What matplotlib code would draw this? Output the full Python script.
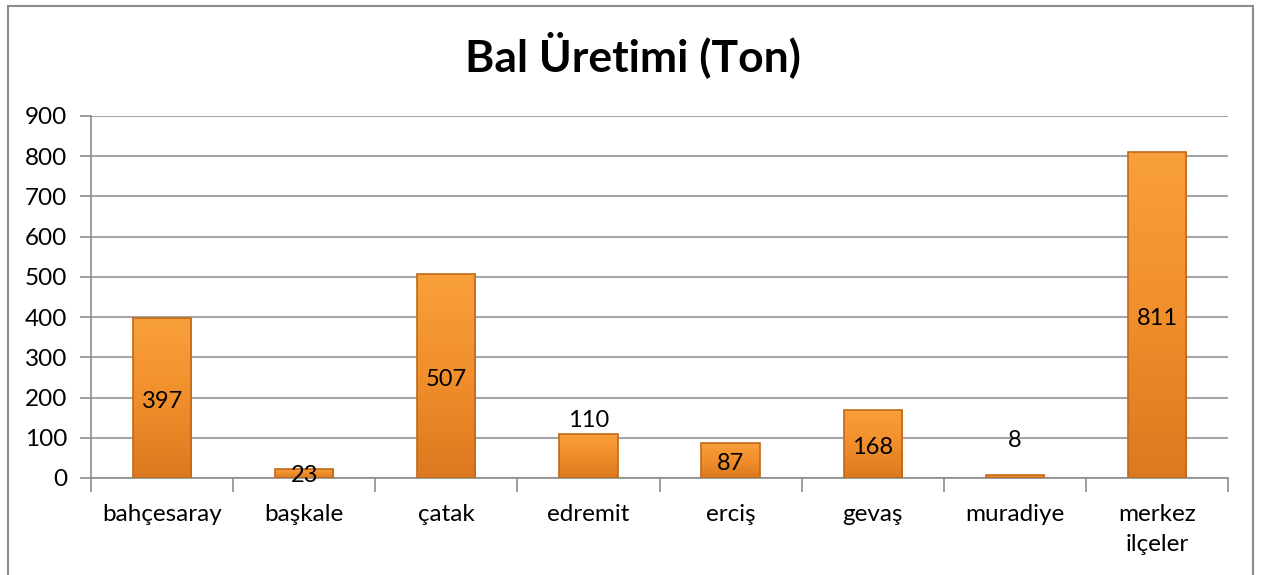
import numpy as np
import matplotlib
matplotlib.use("Agg")
import matplotlib.pyplot as plt
from matplotlib.colors import LinearSegmentedColormap
from matplotlib.patches import Rectangle

plt.rcParams['font.family'] = ['Lato', 'DejaVu Sans']

title = "Bal Üretimi (Ton)"
districts = ["bahçesaray", "başkale", "çatak", "edremit", "erciş", "gevaş", "muradiye", "merkez\nilçeler"]
honey = [397, 23, 507, 110, 87, 168, 8, 811]
# labels that Excel pushed above the bar
label_above = [False, False, False, True, False, False, True, False]

fig = plt.figure(figsize=(12.61, 5.75), dpi=100)
fig.patches.append(Rectangle((8 / 1261, -0.01), 1245 / 1261, 1.0, transform=fig.transFigure,
                             fill=False, edgecolor="#8c8c8c", linewidth=1.5))
ax = fig.add_axes([91 / 1261, 1 - 478 / 575, 1137 / 1261, 362 / 575])

cmap = LinearSegmentedColormap.from_list("bar", ["#dc781f", "#f08f2b", "#f9a03a"])
grad = np.linspace(0, 1, 256).reshape(-1, 1)
x = np.arange(len(districts))
width = 0.41
bars = ax.bar(x, honey, width=width, color="none", edgecolor="#c0691a", linewidth=1.2, zorder=3)
for b in bars:
    x0, w, h = b.get_x(), b.get_width(), b.get_height()
    im = ax.imshow(grad, extent=[x0, x0 + w, 0, h], origin="lower", cmap=cmap,
                   aspect="auto", zorder=2)
    im.set_clip_path(b)

for i, (v, up) in enumerate(zip(honey, label_above)):
    y = v + 34 if up else v / 2 - 8
    if v == 8:
        y = 94
    if v == 23:
        y = 5
    ax.text(x[i], y, str(v), ha="center", va="center", fontsize=17, color="black", zorder=4)

ax.set_xlim(-0.5, len(districts) - 0.5)
ax.set_ylim(0, 900)
ax.set_yticks(range(0, 901, 100))
ax.set_xticks(x)
ax.set_xticklabels(districts, fontsize=17.5, linespacing=1.5)
ax.set_xticks(np.arange(len(districts) + 1) - 0.5, minor=True)
ax.tick_params(axis="x", which="major", length=0, pad=19)
ax.tick_params(axis="x", which="minor", length=10, color="#8c8c8c", width=1.2)
ax.tick_params(axis="y", labelsize=17.5, length=8, color="#8c8c8c", width=1.2, pad=9)
ax.yaxis.grid(True, color="#a6a6a6", linewidth=1.5, zorder=0)
ax.set_axisbelow(True)
for s in ["top", "right"]:
    ax.spines[s].set_visible(False)
for s in ["left", "bottom"]:
    ax.spines[s].set_color("#8c8c8c")
    ax.spines[s].set_linewidth(1.2)

fig.text(633 / 1261, 1 - 55 / 575, title, ha="center", va="center", fontsize=32, fontweight="bold")

fig.savefig("out.png", dpi=100)
